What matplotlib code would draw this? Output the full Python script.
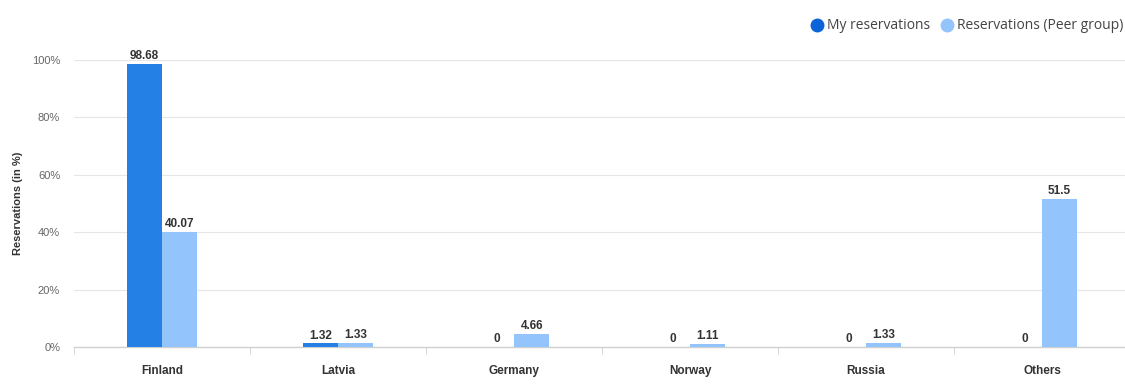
import matplotlib.pyplot as plt
import numpy as np
from matplotlib.lines import Line2D

countries = ['Finland', 'Latvia', 'Germany', 'Norway', 'Russia', 'Others']
my_res = [98.68, 1.32, 0, 0, 0, 0]
peer_res = [40.07, 1.33, 4.66, 1.11, 1.33, 51.5]
my_labels = ['98.68', '1.32', '0', '0', '0', '0']
peer_labels = ['40.07', '1.33', '4.66', '1.11', '1.33', '51.5']

dark = '#2580E6'
light = '#93C4FB'

plt.rcParams['font.family'] = ['Liberation Sans', 'DejaVu Sans']

fig = plt.figure(figsize=(11.25, 3.91), dpi=100)
ax = fig.add_axes([0.0658, 0.1125, 0.9387, 0.734])

x = np.arange(len(countries))
w = 0.2
b1 = ax.bar(x - w / 2, my_res, w, color=dark, zorder=3)
b2 = ax.bar(x + w / 2, peer_res, w, color=light, zorder=3)

for rect, lab in zip(b1, my_labels):
    ax.text(rect.get_x() + rect.get_width() / 2, rect.get_height() + 0.6, lab,
            ha='center', va='bottom', fontsize=8.5, fontweight='bold', color='#333333')
for rect, lab in zip(b2, peer_labels):
    ax.text(rect.get_x() + rect.get_width() / 2, rect.get_height() + 0.6, lab,
            ha='center', va='bottom', fontsize=8.5, fontweight='bold', color='#333333')

ax.set_xlim(-0.5, len(countries) - 0.5)
ax.set_ylim(0, 100)
ax.set_yticks([0, 20, 40, 60, 80, 100])
ax.set_yticklabels(['0%', '20%', '40%', '60%', '80%', '100%'])
ax.tick_params(axis='y', length=0, labelsize=8, labelcolor='#666666', pad=10)

ax.set_xticks(x)
ax.set_xticklabels(countries, fontweight='bold', fontsize=8.5)
ax.tick_params(axis='x', length=0, labelcolor='#333333', pad=13)
ax.set_xticks(np.arange(len(countries) + 1) - 0.5, minor=True)
ax.tick_params(axis='x', which='minor', length=5, color='#d0d0d0')

ax.grid(axis='y', color='#e6e6e6', linewidth=0.8, zorder=0)
for s in ['top', 'right', 'left']:
    ax.spines[s].set_visible(False)
ax.spines['bottom'].set_color('#d0d0d0')
ax.spines['bottom'].set_linewidth(1)

ax.set_ylabel('Reservations (in %)', fontsize=8, fontweight='bold', color='#333333', labelpad=6)

handles = [
    Line2D([], [], marker='o', linestyle='none', markersize=9, color='#0B63D9'),
    Line2D([], [], marker='o', linestyle='none', markersize=9, color=light),
]
fig.legend(handles, ['My reservations', 'Reservations (Peer group)'],
           loc='upper right', bbox_to_anchor=(1.01, 0.985), ncol=2, frameon=False,
           handlelength=0.8, handletextpad=0.35, columnspacing=0.8, labelcolor='#444444',
           prop={'family': ['Open Sans', 'DejaVu Sans'], 'size': 10})

fig.savefig('out.png', dpi=100)
